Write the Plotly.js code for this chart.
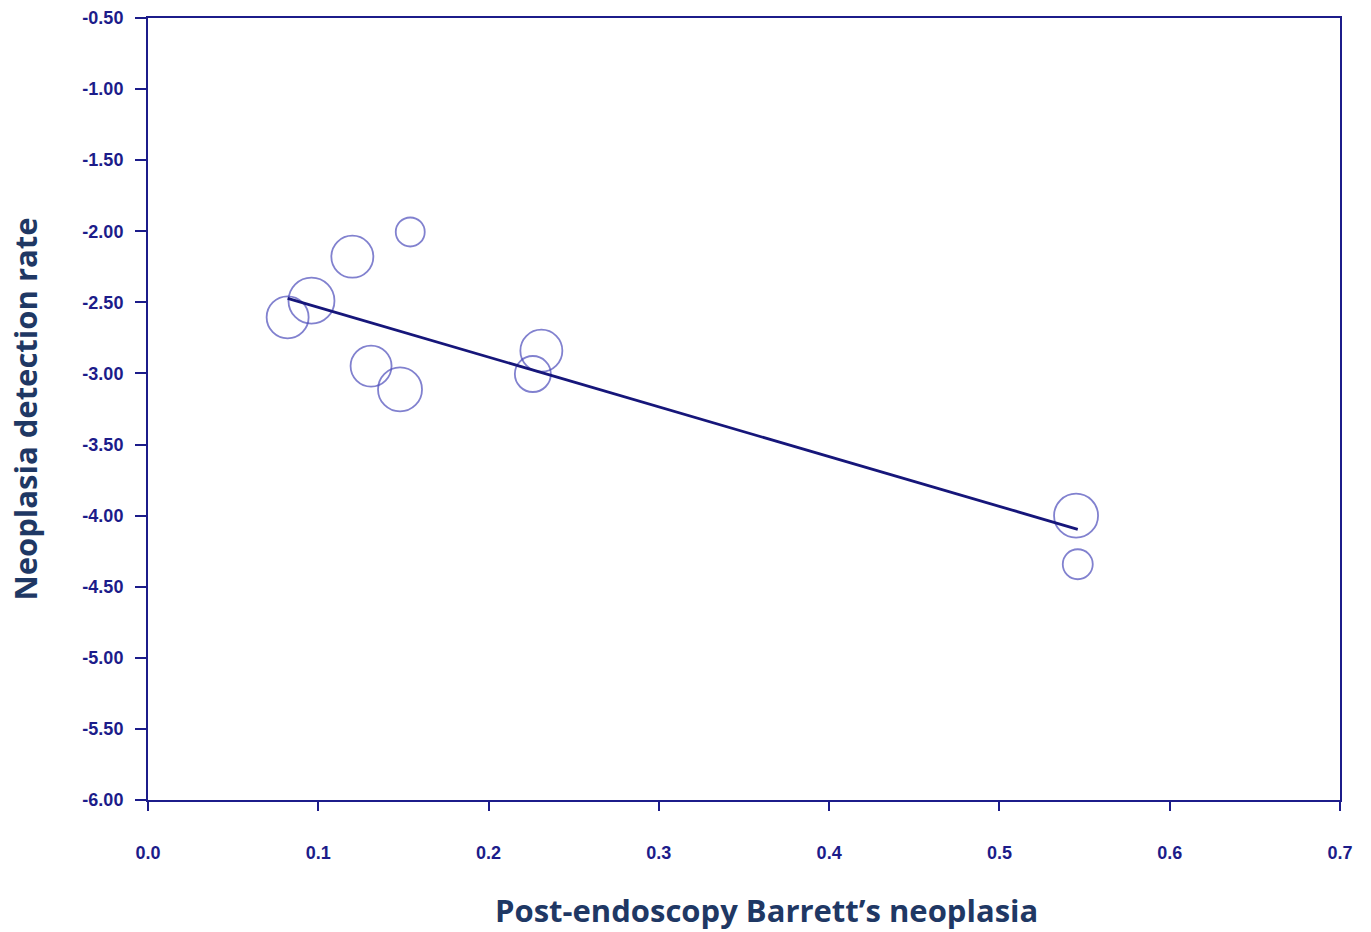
<!DOCTYPE html>
<html>
<head>
<meta charset="utf-8">
<script src="https://cdn.plot.ly/plotly-3.0.1.min.js"></script>
<style>html,body{margin:0;padding:0;background:#fff;}#chart{width:1371px;height:932px;}</style>
</head>
<body>
<div id="chart"></div>
<script>
// Study points: x = post-endoscopy Barrett's neoplasia, y = neoplasia detection rate (log scale), size = study weight
const studyX = [0.154, 0.120, 0.096, 0.082, 0.131, 0.148, 0.231, 0.226, 0.545, 0.546];
const studyY = [-2.005, -2.179, -2.488, -2.605, -2.948, -3.112, -2.840, -3.004, -4.000, -4.342];
const studySize = [29, 42, 46, 42, 41, 44, 42, 36, 44, 30];

// Meta-regression fitted line endpoints
const fitX = [0.082, 0.546];
const fitY = [-2.472, -4.096];

// Tick labels
const yTickVals = [-6, -5.5, -5, -4.5, -4, -3.5, -3, -2.5, -2, -1.5, -1, -0.5];
const yTickText = ["-6.00","-5.50","-5.00","-4.50","-4.00","-3.50","-3.00","-2.50","-2.00","-1.50","-1.00","-0.50"];
const xTickVals = [0, 0.1, 0.2, 0.3, 0.4, 0.5, 0.6, 0.7];
const xTickText = ["0.0","0.1","0.2","0.3","0.4","0.5","0.6","0.7"];

const xTitle = 'Post-endoscopy Barrett’s neoplasia';
const yTitle = 'Neoplasia detection rate';

const axisColor = '#1c1c8a';
const titleColor = '#1f3864';

const traces = [
  {
    x: studyX, y: studyY, type: 'scatter', mode: 'markers',
    marker: {size: studySize, color: 'rgba(0,0,0,0)', line: {color: '#4d4dbb', width: 1.8}},
    hoverinfo: 'x+y', showlegend: false
  },
  {
    x: fitX, y: fitY, type: 'scatter', mode: 'lines',
    line: {color: '#16167a', width: 2.8}, showlegend: false
  }
];

const layout = {
  width: 1371, height: 932,
  margin: {l: 148, r: 31, t: 18, b: 132},
  paper_bgcolor: '#ffffff', plot_bgcolor: '#ffffff',
  font: {family: '"Liberation Sans", Arial, sans-serif', color: axisColor},
  xaxis: {
    range: [0, 0.7], tickvals: xTickVals, ticktext: xTickText,
    showgrid: false, zeroline: false, showline: true, mirror: true,
    linecolor: axisColor, linewidth: 2,
    ticks: 'outside', ticklen: 9, tickwidth: 2, tickcolor: axisColor,
    tickfont: {size: 18, color: axisColor, family: '"Liberation Sans", Arial, sans-serif', weight: 'bold'},
    ticklabelstandoff: 26,
    automargin: false
  },
  yaxis: {
    range: [-6, -0.5], tickvals: yTickVals, ticktext: yTickText,
    showgrid: false, zeroline: false, showline: true, mirror: true,
    linecolor: axisColor, linewidth: 2,
    ticks: 'outside', ticklen: 11, tickwidth: 2, tickcolor: axisColor,
    tickfont: {size: 18, color: axisColor, family: '"Liberation Sans", Arial, sans-serif', weight: 'bold'},
    ticklabelstandoff: 8,
    automargin: false,
    title: {text: yTitle, standoff: 36,
            font: {size: 31, color: titleColor, family: '"Open Sans", sans-serif', weight: 'bold'}}
  },
  annotations: [{
    text: xTitle, xref: 'paper', yref: 'paper', x: 0.5185, y: -0.1407,
    xanchor: 'center', yanchor: 'middle', showarrow: false,
    font: {size: 31, color: titleColor, family: '"Open Sans", sans-serif', weight: 'bold'}
  }]
};

Plotly.newPlot('chart', traces, layout, {displayModeBar: false, staticPlot: true});
</script>
</body>
</html>
